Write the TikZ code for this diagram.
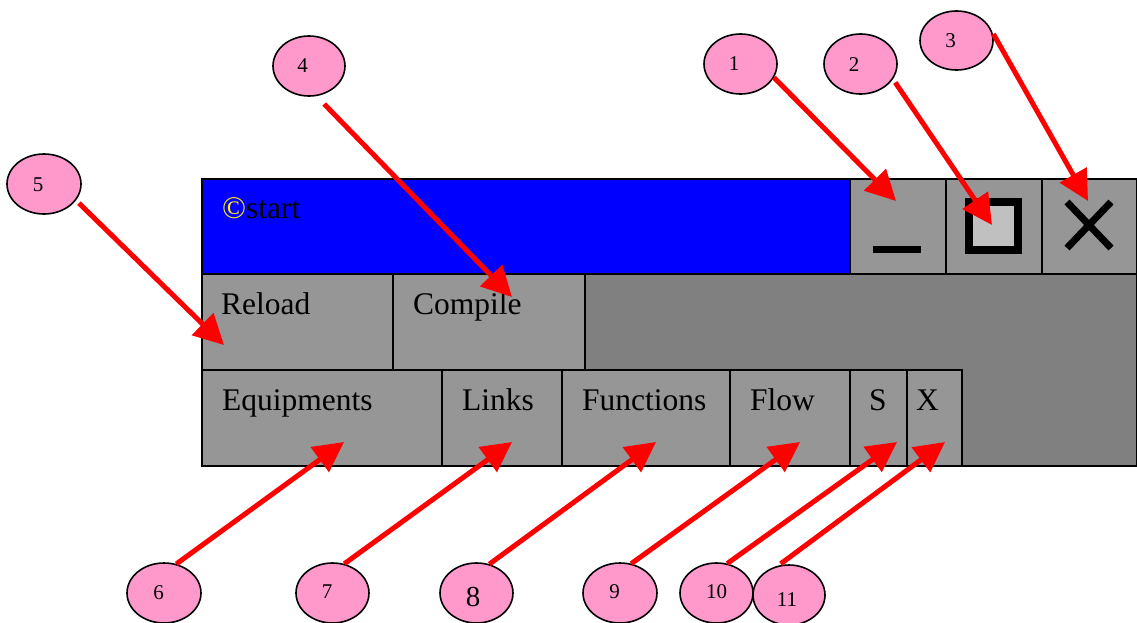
\documentclass[tikz,border=0pt]{standalone}
\usepackage{fontspec}
\setmainfont{Liberation Serif}
\usetikzlibrary{shapes.geometric,arrows.meta}
\definecolor{panelgray}{HTML}{969696}
\definecolor{deskgray}{HTML}{808080}
\definecolor{titleblue}{HTML}{0000FF}
\definecolor{calloutpink}{HTML}{FF99CC}
\definecolor{iconfill}{HTML}{C0C0C0}
\begin{document}
\begin{tikzpicture}[x=1pt,y=-1pt,
  frame/.style={draw=black, line width=1.6pt, anchor=north west, inner sep=0pt},
  panel/.style={frame, fill=panelgray, minimum width=#1, minimum height=96pt},
  lbl/.style={anchor=base west, inner sep=0pt, font=\fontsize{31.5}{31.5}\selectfont},
  callout/.style={ellipse, draw=black, line width=1.6pt, fill=calloutpink,
    minimum width=73pt, minimum height=60pt, inner sep=0pt},
  num/.style={inner sep=0pt, font=\fontsize{21}{21}\selectfont},
  pointer/.style={draw=red, line width=5pt, -{Triangle[length=30pt,width=30pt]}}]

\useasboundingbox (0,0) rectangle (1137,622);

% window body and title bar
\node[frame, fill=deskgray, minimum width=935pt, minimum height=192pt] (desk) at (201,273) {};
\node[frame, fill=titleblue, minimum width=648pt, minimum height=95pt] (title) at (201,178) {};
\node[panel=96pt, minimum height=95pt] (minbtn) at (849,178) {};
\node[panel=96pt, minimum height=95pt] (maxbtn) at (945,178) {};
\node[panel=95pt, minimum height=95pt] (closebtn) at (1041,178) {};

% toolbar rows
\node[panel=191pt] (reload) at (201,273) {};
\node[panel=192pt] (compile) at (392,273) {};
\node[panel=240pt] (equip) at (201,369) {};
\node[panel=120pt] (links) at (441,369) {};
\node[panel=168pt] (funcs) at (561,369) {};
\node[panel=120pt] (flow) at (729,369) {};
\node[panel=57pt] (sbtn) at (849,369) {};
\node[panel=55pt] (xbtn) at (906,369) {};

% captions
\node[lbl] (titletext) at ([shift={(21,40)}]title.north west) {{\color{yellow}©}start};
\node[lbl] (reloadtext) at ([shift={(20,41)}]reload.north west) {Reload};
\node[lbl] (compiletext) at ([shift={(21,41)}]compile.north west) {Compile};
\node[lbl] (equiptext) at ([shift={(21,41)}]equip.north west) {Equipments};
\node[lbl] (linkstext) at ([shift={(21,41)}]links.north west) {Links};
\node[lbl] (funcstext) at ([shift={(21,41)}]funcs.north west) {Functions};
\node[lbl] (flowtext) at ([shift={(21,41)}]flow.north west) {Flow};
\node[lbl] (stext) at ([shift={(20,41)}]sbtn.north west) {S};
\node[lbl] (xtext) at ([shift={(10,41)}]xbtn.north west) {X};

% window control icons
\fill[black] (873,246) rectangle (921,253);
\draw[line width=8pt, fill=iconfill] (969,202) rectangle (1017.5,250);
\draw[line width=7pt] (1067,202) -- (1111,248) (1111,202) -- (1067,248);

% callout bubbles
\node[callout] (e1) at (740.5,64) {};
\node[callout] (e2) at (860.5,64) {};
\node[callout, minimum height=59pt] (e3) at (956.5,40.5) {};
\node[callout, minimum width=72pt] (e4) at (309,66) {};
\node[callout, minimum width=74pt] (e5) at (44,184) {};
\node[callout, minimum width=74pt] (e6) at (164,593) {};
\node[callout] (e7) at (332.5,593) {};
\node[callout] (e8) at (476.5,593) {};
\node[callout, minimum width=74pt] (e9) at (620,593) {};
\node[callout] (e10) at (716.5,593) {};
\node[callout, minimum width=72pt] (e11) at (789,595) {};

\node[num] (n1) at (734,64) {1};
\node[num] (n2) at (854,64.5) {2};
\node[num] (n3) at (950.5,40.5) {3};
\node[num] (n4) at (302.5,65.5) {4};
\node[num] (n5) at (38,184.5) {5};
\node[num] (n6) at (158.5,592.5) {6};
\node[num] (n7) at (327,592) {7};
\node[num, font=\fontsize{29}{29}\selectfont] (n8) at (473,597) {8};
\node[num] (n9) at (614.5,591.5) {9};
\node[num] (n10) at (716.5,592) {10};
\node[num] (n11) at (787,599.5) {11};

% pointer targets
\coordinate (t1) at (896,201);
\coordinate (t2) at (992,225);
\coordinate (t3) at (1088,201);
\coordinate (t4) at (512,297);
\coordinate (t5) at (224,345);
\coordinate (t6) at (344,442);
\coordinate (t7) at (512,442);
\coordinate (t8) at (656,442);
\coordinate (t9) at (800,442);
\coordinate (t10) at (897,442);
\coordinate (t11) at (945,442);

% pointers
\draw[pointer] (e1.-22) -- (t1);
\draw[pointer, shorten <=4pt] (e2.-25) -- (t2);
\draw[pointer, shorten <=2pt] (e3.13) -- (t3);
\draw[pointer, shorten <=11pt] (e4.-76) -- (t4);
\draw[pointer, shorten <=4pt] (e5.-27) -- (t5);
\draw[pointer] (e6.67) -- (t6);
\draw[pointer] (e7.68) -- (t7);
\draw[pointer] (e8.66) -- (t8);
\draw[pointer] (e9.69) -- (t9);
\draw[pointer] (e10.70) -- (t10);
\draw[pointer, shorten <=3pt] (e11.110) -- (t11);
\end{tikzpicture}
\end{document}
